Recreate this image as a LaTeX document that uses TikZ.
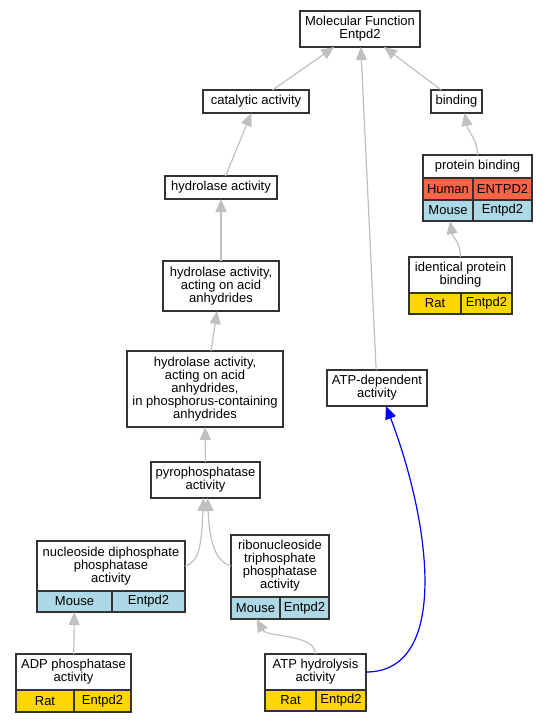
\documentclass[tikz,border=0pt]{standalone}
\usepackage{fontspec}
\setmainfont{Liberation Sans}
\usetikzlibrary{arrows.meta}

\definecolor{edgegray}{HTML}{C0C0C0}
\definecolor{ratgold}{HTML}{FFD700}
\definecolor{mouseblue}{HTML}{ADD8E6}
\definecolor{humanred}{HTML}{FF6347}

\begin{document}
\begin{tikzpicture}[x=1pt,y=-1pt,
  isa/.style={draw=edgegray,line width=1.2pt,-{Triangle[length=13pt,width=11pt]}},
  link/.style={draw=blue,line width=1.2pt,-{Triangle[length=13pt,width=11pt]}},
  term/.style={draw=black!80,fill=white,line width=1.1pt,rectangle,inner sep=0pt,outer sep=0pt,align=center},
  cell/.style={term,minimum height=21pt}]
      \tikzstyle{every node}=[font=\fontsize{13}{13}\selectfont,text=black]
      \useasboundingbox (0,0) rectangle (548,723);

     % terms
     \node [term,minimum width=120pt,minimum height=36pt] (mf) at (360,29) {Molecular Function\\Entpd2};
     \node [term,minimum width=106pt,minimum height=23pt] (cat) at (256,101.5) {catalytic activity};
     \node [term,minimum width=51pt,minimum height=23pt] (bind) at (456.5,101.5) {binding};
     \node [term,minimum width=112pt,minimum height=23pt] (hyd) at (221,187.5) {hydrolase activity};
     \node [term,minimum width=116pt,minimum height=50pt] (hyda) at (221,286) {hydrolase activity,\\acting on acid\\anhydrides};
     \node [term,minimum width=156pt,minimum height=76pt] (hydp) at (205,389) {hydrolase activity,\\acting on acid\\anhydrides,\\in phosphorus-containing\\anhydrides};
     \node [term,minimum width=109pt,minimum height=36pt] (pyro) at (205.5,480) {pyrophosphatase\\activity};
     \node [term,minimum width=100pt,minimum height=36pt] (atpd) at (377,388) {ATP-dependent\\activity};

     % protein binding
     \node [term,minimum width=109pt,minimum height=23pt] (pb) at (477.5,166.5) {protein binding};
     \node [cell,fill=humanred,minimum width=50pt,minimum height=22pt] (pbh1) at (448,189) {Human};
     \node [cell,fill=humanred,minimum width=59pt,minimum height=22pt] (pbh2) at (502.5,189) {ENTPD2};
     \node [cell,fill=mouseblue,minimum width=50pt] (pbm1) at (448,210.5) {Mouse};
     \node [cell,fill=mouseblue,minimum width=59pt] (pbm2) at (502.5,210.5) {Entpd2};

     % identical protein binding
     \node [term,minimum width=103pt,minimum height=36pt] (idp) at (460.5,275) {identical protein\\binding};
     \node [cell,fill=ratgold,minimum width=52pt] (idpr1) at (435,303.5) {Rat};
     \node [cell,fill=ratgold,minimum width=51pt] (idpr2) at (486.5,303.5) {Entpd2};

     % nucleoside diphosphate phosphatase activity
     \node [term,minimum width=148pt,minimum height=50pt] (ndp) at (111,566) {nucleoside diphosphate\\phosphatase\\activity};
     \node [cell,fill=mouseblue,minimum width=75pt] (ndpm1) at (74.5,601.5) {Mouse};
     \node [cell,fill=mouseblue,minimum width=73pt] (ndpm2) at (148.5,601.5) {Entpd2};

     % ribonucleoside triphosphate phosphatase activity
     \node [term,minimum width=98pt,minimum height=62pt] (rtp) at (280,566) {ribonucleoside\\triphosphate\\phosphatase\\activity};
     \node [cell,fill=mouseblue,minimum width=49pt,minimum height=22pt] (rtpm1) at (255.5,608) {Mouse};
     \node [cell,fill=mouseblue,minimum width=49pt,minimum height=22pt] (rtpm2) at (304.5,608) {Entpd2};

     % ADP phosphatase activity
     \node [term,minimum width=115pt,minimum height=36pt] (adp) at (73.5,672) {ADP phosphatase\\activity};
     \node [cell,fill=ratgold,minimum width=58pt,minimum height=22pt] (adpr1) at (45,701) {Rat};
     \node [cell,fill=ratgold,minimum width=57pt,minimum height=22pt] (adpr2) at (102.5,701) {Entpd2};

     % ATP hydrolysis activity
     \node [term,minimum width=101pt,minimum height=36pt] (atph) at (315.5,672) {ATP hydrolysis\\activity};
     \node [cell,fill=ratgold,minimum width=51pt] (atphr1) at (290.5,700.5) {Rat};
     \node [cell,fill=ratgold,minimum width=50pt] (atphr2) at (341,700.5) {Entpd2};

     \path
	(cat) edge[isa] (mf)
	(bind) edge[isa] (mf)
	(atpd) edge[isa] (mf)
	(hyd) edge[isa] (cat)
	(hyda) edge[isa] (hyd)
	(hydp) edge[isa] (hyda)
	(pyro) edge[isa] (hydp)
	(adp) edge[isa] (ndpm1);

     \draw[isa] (pb.north) .. controls +(0,-16) and +(4,20) .. ([xshift=8pt]bind.south);
     \draw[isa] (idp.north) .. controls +(0,-16) and +(3,18) .. ([xshift=2pt]pbm1.south);
     \draw[isa] (ndp.east) .. controls +(15,-4) and +(-2,45) .. ([xshift=-2pt]pyro.south);
     \draw[isa] (rtp.west) .. controls +(-15,-4) and +(2,45) .. ([xshift=2pt]pyro.south);
     \draw[isa] (atph.north) .. controls +(0,-20) and +(10,18) .. ([xshift=1pt]rtpm1.south);
     \draw[link] (atph.east) .. controls +(85,0) and +(44,115) .. ([xshift=9pt]atpd.south);

  \end{tikzpicture}
\end{document}
